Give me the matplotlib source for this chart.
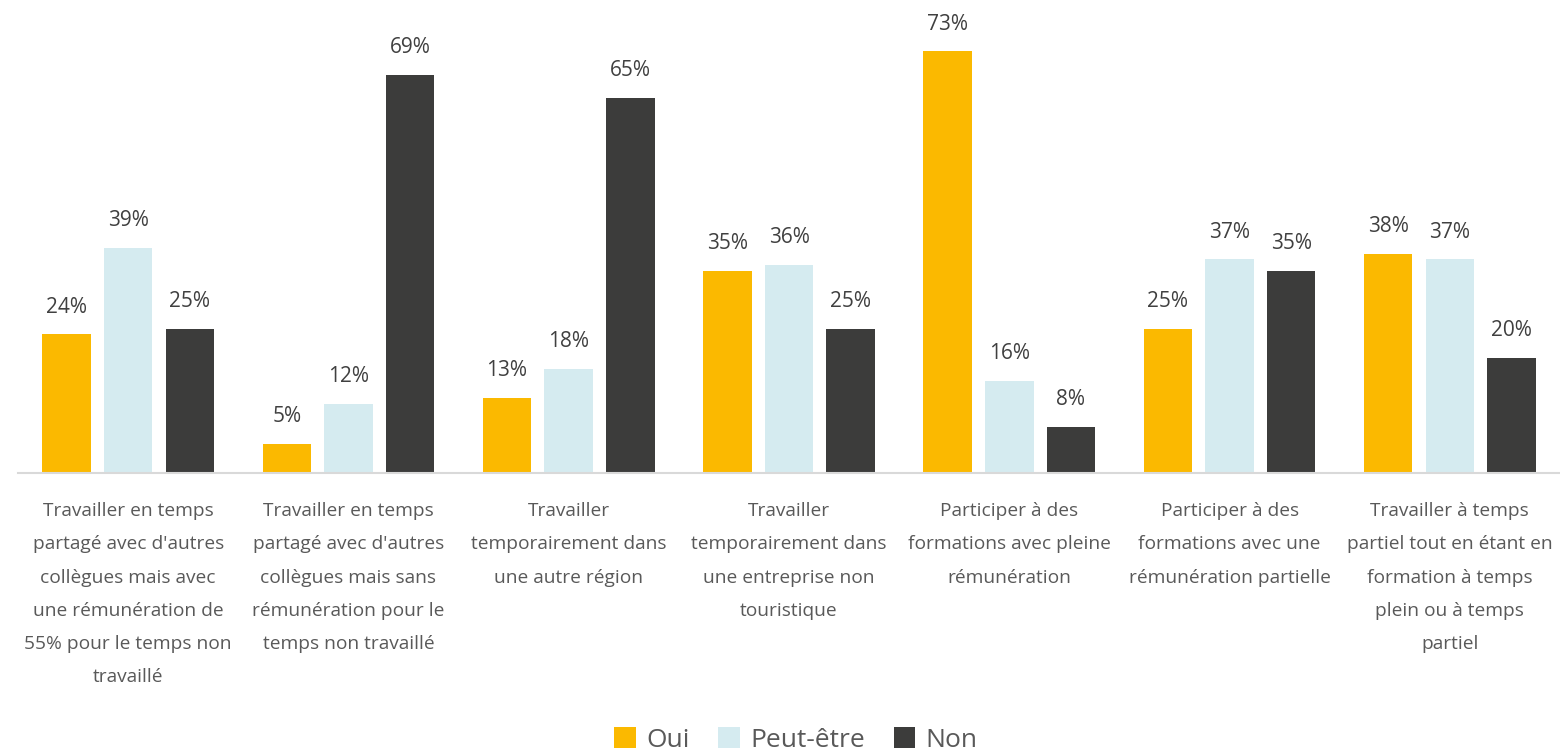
import numpy as np
import matplotlib
matplotlib.use('Agg')
import matplotlib.pyplot as plt
from matplotlib.patches import Patch

plt.rcParams['font.family'] = ['Open Sans', 'DejaVu Sans']

categories = [
    "Travailler en temps\npartagé avec d'autres\ncollègues mais avec\nune rémunération de\n55% pour le temps non\ntravaillé",
    "Travailler en temps\npartagé avec d'autres\ncollègues mais sans\nrémunération pour le\ntemps non travaillé",
    "Travailler\ntemporairement dans\nune autre région",
    "Travailler\ntemporairement dans\nune entreprise non\ntouristique",
    "Participer à des\nformations avec pleine\nrémunération",
    "Participer à des\nformations avec une\nrémunération partielle",
    "Travailler à temps\npartiel tout en étant en\nformation à temps\nplein ou à temps\npartiel",
]
series_names = ["Oui", "Peut-être", "Non"]
oui       = [24, 5, 13, 35, 73, 25, 38]
peut_etre = [39, 12, 18, 36, 16, 37, 37]
non       = [25, 69, 65, 25, 8, 35, 20]

colors = ["#FBB900", "#D5EBF0", "#3C3C3B"]
label_color = "#404040"
cat_color = "#595959"

fig = plt.figure(figsize=(15.6, 7.52), dpi=100)
ax = fig.add_axes([18 / 1560, 279 / 752, 1542 / 1560, 462 / 752])

x = np.arange(len(categories))
width = 0.22
step = 0.28
for i, (vals, name) in enumerate(zip([oui, peut_etre, non], series_names)):
    pos = x + (i - 1) * step
    bars = ax.bar(pos, vals, width, color=colors[i], label=name, zorder=2)
    for b, v in zip(bars, vals):
        ax.annotate(f"{v}%", (b.get_x() + b.get_width() / 2, v),
                    xytext=(0, 12), textcoords='offset points',
                    ha='center', va='bottom', fontsize=15, color=label_color)

ax.set_xlim(-0.5, len(categories) - 0.5)
ax.set_ylim(0, 80)
ax.set_yticks([])
ax.set_xticks(x)
ax.set_xticklabels(categories, fontsize=13.8, color=cat_color, linespacing=2.09, va='top')
ax.tick_params(axis='x', length=0, pad=21)
for s in ['top', 'right', 'left']:
    ax.spines[s].set_visible(False)
ax.spines['bottom'].set_color("#D9D9D9")
ax.spines['bottom'].set_linewidth(1.5)

handles = [Patch(facecolor=c, label=n) for c, n in zip(colors, series_names)]
fig.legend(handles=handles, loc='center', bbox_to_anchor=(796 / 1560, 1 - 740 / 752),
           ncol=3, frameon=False, fontsize=19, handlelength=0.8, handleheight=0.8,
           handletextpad=0.4, columnspacing=1.1, labelcolor=cat_color)

fig.savefig('out.png', dpi=100, facecolor='white')
